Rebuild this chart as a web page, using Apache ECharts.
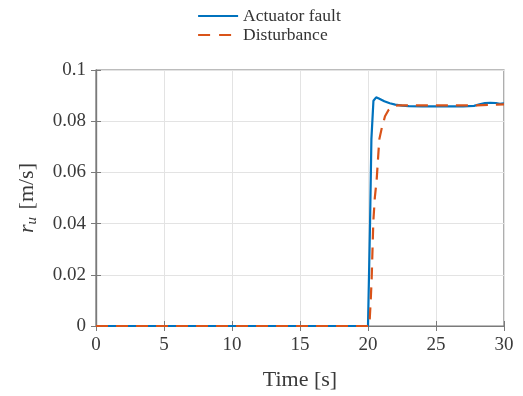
<!DOCTYPE html>
<html>
<head>
<meta charset="utf-8">
<script src="https://cdn.jsdelivr.net/npm/echarts@6/dist/echarts.min.js"></script>
<style>
  html, body { margin: 0; padding: 0; background: #fff; }
  #chart { width: 523px; height: 396px; }
</style>
</head>
<body>
<div id="chart"></div>
<script>
const faultTime = [0, 20, 20.05, 20.15, 20.25, 20.4, 20.6, 20.8, 21.2, 21.6, 22, 22.5, 23, 24, 25, 26, 27, 27.8, 28.2, 28.6, 29, 29.4, 29.7, 30];
const faultValue = [0, 0, 0, 0.04, 0.073, 0.088, 0.0893, 0.0889, 0.0878, 0.087, 0.0865, 0.0861, 0.0859, 0.0858, 0.0858, 0.0858, 0.0858, 0.086, 0.0866, 0.0871, 0.0872, 0.0871, 0.0868, 0.087];
const distTime = [0, 20.1, 20.2, 20.27, 20.39, 20.5, 20.64, 20.83, 21, 21.25, 21.5, 21.86, 22.2, 23, 25, 27, 28, 29, 30];
const distValue = [0, 0, 0.01, 0.0186, 0.0407, 0.05, 0.0574, 0.0729, 0.077, 0.0819, 0.0843, 0.0858, 0.0862, 0.0862, 0.0862, 0.0862, 0.0862, 0.0864, 0.0866];
const xTicks = [0, 5, 10, 15, 20, 25, 30];
const yTicks = [0, 0.02, 0.04, 0.06, 0.08, 0.1];

const pairs = (xs, ys) => xs.map((x, i) => [x, ys[i]]);
const serif = 'Liberation Serif';
const axisGray = '#7a7a7a';
const textGray = '#3a3a3a';

const chart = echarts.init(document.getElementById('chart'));
chart.setOption({
  animation: false,
  legend: {
    orient: 'vertical',
    left: 192,
    top: 2,
    itemWidth: 40,
    itemHeight: 14,
    itemGap: 1,
    itemStyle: { opacity: 0 },
    textStyle: { fontFamily: serif, fontSize: 17.5, color: '#333' },
    data: ['Actuator fault', { name: 'Disturbance', lineStyle: { type: [12, 9], width: 2.2 } }]
  },
  grid: {
    left: 96, right: 19, top: 70, bottom: 68,
    show: true, borderColor: axisGray, borderWidth: 1.2
  },
  xAxis: [{
    type: 'value', min: 0, max: 30, interval: 5,
    name: 'Time [s]', nameLocation: 'middle', nameGap: 43,
    nameTextStyle: { fontFamily: serif, fontSize: 22, color: textGray },
    axisLine: { lineStyle: { color: axisGray, width: 1.2 } },
    axisTick: { inside: true, length: 5, lineStyle: { color: axisGray } },
    axisLabel: { fontFamily: serif, fontSize: 19, color: textGray, margin: 10,
      formatter: v => xTicks.includes(v) ? String(v) : '' },
    splitLine: { lineStyle: { color: '#e3e3e3' } }
  }, {
    type: 'value', min: 0, max: 30, interval: 5, position: 'top',
    axisLine: { lineStyle: { color: axisGray, width: 1.2 } },
    axisTick: { inside: true, length: 5, lineStyle: { color: axisGray } },
    axisLabel: { show: false }, splitLine: { show: false }
  }],
  yAxis: [{
    type: 'value', min: 0, max: 0.1, interval: 0.02,
    name: '{i|r}{s|u} [m/s]', nameLocation: 'middle', nameGap: 56,
    nameTextStyle: {
      fontFamily: serif, fontSize: 22, color: textGray,
      rich: {
        i: { fontFamily: serif, fontStyle: 'italic', fontSize: 22, color: textGray },
        s: { fontFamily: serif, fontStyle: 'italic', fontSize: 15, color: textGray, verticalAlign: 'bottom', padding: [10, 2, 0, 0] }
      }
    },
    axisLine: { show: true, lineStyle: { color: axisGray, width: 1.2 } },
    axisTick: { show: true, inside: true, length: 5, lineStyle: { color: axisGray } },
    axisLabel: { fontFamily: serif, fontSize: 19, color: textGray, margin: 10,
      formatter: v => { const t = yTicks.find(k => Math.abs(k - v) < 1e-9); return t === undefined ? '' : String(+t.toFixed(2)); } },
    splitLine: { lineStyle: { color: '#e3e3e3' } }
  }, {
    type: 'value', min: 0, max: 0.1, interval: 0.02, position: 'right',
    axisLine: { show: true, lineStyle: { color: axisGray, width: 1.2 } },
    axisTick: { show: true, inside: true, length: 5, lineStyle: { color: axisGray } },
    axisLabel: { show: false }, splitLine: { show: false }
  }],
  series: [{
    name: 'Actuator fault', type: 'line', showSymbol: false, symbol: 'none',
    data: pairs(faultTime, faultValue),
    lineStyle: { color: '#0072BD', width: 2.2 }, itemStyle: { color: '#0072BD' },
    z: 2
  }, {
    name: 'Disturbance', type: 'line', showSymbol: false, symbol: 'none',
    data: pairs(distTime, distValue),
    lineStyle: { color: '#D95319', width: 2.2, type: [12, 8] }, itemStyle: { color: '#D95319' },
    z: 3
  }]
});
</script>
</body>
</html>
